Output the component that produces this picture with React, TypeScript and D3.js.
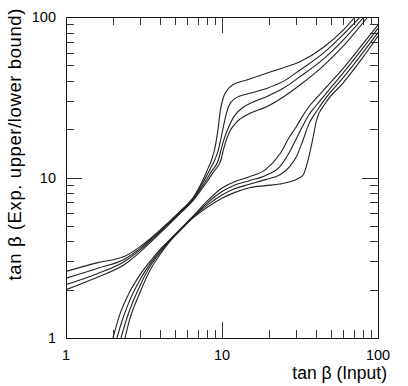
import React, { useEffect, useRef } from 'react';
import * as d3 from 'd3';

// upper bounds as [tanB input, tanB bound]
const upper1 = [[1, 2.6], [1.6, 2.95], [2.4, 3.24], [3.0, 3.72], [3.45, 4.15], [4.5, 5.22], [5.5, 6.28], [6.5, 7.45], [7.6, 9.8], [8.2, 11.6], [8.6, 13.0], [9.0, 15.2], [9.4, 19.5], [9.75, 26], [10.2, 31.5], [10.8, 35], [11.8, 38], [14.4, 40.5], [19.3, 44.6], [25, 48.5], [31.6, 52.7], [45, 65], [60, 83], [71.2, 100]];
const upper2 = [[1, 2.36], [1.6, 2.72], [2.4, 3.12], [3.0, 3.63], [3.45, 4.08], [4.5, 5.16], [5.5, 6.22], [6.5, 7.35], [7.6, 9.4], [8.4, 11.3], [9.0, 12.9], [9.47, 14.8], [9.85, 17.5], [10.2, 20.7], [10.6, 24.5], [11.0, 27.6], [12.1, 31.1], [15.1, 33.5], [19.3, 35.9], [25, 40], [31.6, 46.7], [45, 60], [60, 78], [76.7, 100]];
const upper3 = [[1, 2.15], [1.6, 2.52], [2.4, 3.02], [3.0, 3.55], [3.45, 4.0], [4.5, 5.1], [5.5, 6.15], [6.5, 7.25], [7.6, 9.05], [8.6, 11.0], [9.48, 12.85], [9.85, 14.8], [10.3, 17.3], [10.7, 19.2], [11.8, 23.6], [13.7, 27.4], [16, 29.6], [19.3, 31.9], [25, 36.2], [31.6, 42.5], [45, 55], [60, 72], [81.2, 100]];
const upper4 = [[1, 2.0], [1.6, 2.4], [2.4, 2.89], [3.0, 3.45], [3.45, 3.92], [4.5, 5.02], [5.5, 6.08], [6.5, 7.15], [7.6, 8.75], [8.8, 10.8], [9.85, 12.85], [10.2, 14.8], [10.7, 17.3], [11.3, 19.6], [12.4, 22.1], [15.1, 25.1], [19.3, 27.6], [25, 32], [31.6, 37.7], [45, 50], [60, 66], [85.9, 100]];

// lower bounds
const lower1 = [[2.0, 1.0], [2.2, 1.38], [2.5, 1.85], [3.0, 2.5], [3.5, 3.05], [4.0, 3.55], [4.5, 3.98], [5.5, 4.85], [6.5, 5.72], [8, 7.1], [10, 8.6], [12, 9.4], [15, 10.1], [19, 11.2], [23.5, 14.0], [27, 17.8], [30, 20.8], [33, 24.3], [36, 27.5], [40, 31], [46, 36], [60, 48], [80, 68], [100, 89]];
const lower2 = [[2.12, 1.0], [2.3, 1.3], [2.5, 1.62], [3.0, 2.33], [3.5, 2.95], [4.0, 3.48], [4.5, 3.96], [5.5, 4.83], [6.5, 5.68], [8, 6.9], [10, 8.17], [12, 8.95], [15, 9.55], [19, 10.3], [23.5, 11.7], [27, 14.3], [30, 17.5], [33, 21.0], [36, 24.5], [40, 28], [46, 33], [60, 45], [80, 64], [100, 85]];
const lower3 = [[2.25, 1.0], [2.5, 1.4], [3.0, 2.15], [3.5, 2.85], [4.0, 3.4], [4.5, 3.93], [5.5, 4.8], [6.5, 5.64], [8, 6.7], [10, 7.77], [12, 8.5], [15, 9.07], [19, 9.7], [23.5, 10.4], [27, 11.6], [30, 13.5], [33, 17.0], [36, 21.5], [40, 25.5], [46, 31], [60, 42], [80, 60], [100, 80]];
const lower4 = [[2.39, 1.0], [2.5, 1.2], [3.0, 1.95], [3.5, 2.7], [4.0, 3.3], [4.5, 3.86], [5.5, 4.77], [6.5, 5.58], [8, 6.5], [10, 7.43], [12, 8.05], [15, 8.64], [19, 8.9], [23.5, 9.1], [27.3, 9.4], [31, 9.9], [33.2, 10.4], [35.6, 12.8], [38, 17], [40.4, 22.8], [46, 29], [60, 39], [80, 56], [100, 76]];

const curves = [upper1, upper2, upper3, upper4, lower1, lower2, lower3, lower4];
const tickLabels = ['1', '10', '100'];
const xTitle = 'tan \u03b2 (Input)';
const yTitle = 'tan \u03b2 (Exp. upper/lower bound)';

const W = 408, H = 386;
const L = 66, R = 378, T = 17, B = 338;
const FONT = '"Liberation Sans", Arial, Helvetica, sans-serif';

export default function App() {
  const ref = useRef<SVGSVGElement>(null);

  useEffect(() => {
    const svg = d3.select(ref.current);
    svg.selectAll('*').remove();

    const x = d3.scaleLog().domain([1, 100]).range([L, R]);
    const y = d3.scaleLog().domain([1, 100]).range([B, T]);

    svg.append('defs').append('clipPath').attr('id', 'plot')
      .append('rect').attr('x', L).attr('y', T).attr('width', R - L).attr('height', B - T);

    const isMajor = (v: number) => Math.abs(Math.log10(v) - Math.round(Math.log10(v))) < 1e-6;
    const tickColor = '#333';

    // ticks on all four sides, pointing inwards
    const g = svg.append('g').attr('stroke', tickColor).attr('stroke-width', 1);
    x.ticks().forEach((v) => {
      const len = isMajor(v) ? 16 : 8;
      const px = Math.round(x(v)) + 0.5;
      g.append('line').attr('x1', px).attr('x2', px).attr('y1', B).attr('y2', B - len);
      g.append('line').attr('x1', px).attr('x2', px).attr('y1', T).attr('y2', T + len);
    });
    y.ticks().forEach((v) => {
      const len = isMajor(v) ? 16 : 8;
      const py = Math.round(y(v)) + 0.5;
      g.append('line').attr('y1', py).attr('y2', py).attr('x1', L).attr('x2', L + len);
      g.append('line').attr('y1', py).attr('y2', py).attr('x1', R).attr('x2', R - len);
    });

    svg.append('rect')
      .attr('x', L + 0.5).attr('y', T + 0.5).attr('width', R - L).attr('height', B - T)
      .attr('fill', 'none').attr('stroke', '#111').attr('stroke-width', 1);

    const line = d3.line<number[]>()
      .x((d) => x(d[0]))
      .y((d) => y(d[1]))
      .curve(d3.curveMonotoneX);

    svg.append('g').attr('clip-path', 'url(#plot)')
      .selectAll('path').data(curves).join('path')
      .attr('d', (d) => line(d))
      .attr('fill', 'none')
      .attr('stroke', '#222')
      .attr('stroke-width', 1.1);

    // tick labels
    const decades = [1, 10, 100];
    svg.append('g').selectAll('text').data(decades).join('text')
      .attr('x', (d) => x(d)).attr('y', 360)
      .attr('text-anchor', 'middle')
      .attr('font-family', FONT).attr('font-size', 14.5)
      .text((d, i) => tickLabels[i]);
    svg.append('g').selectAll('text').data(decades).join('text')
      .attr('x', 56).attr('y', (d) => y(d))
      .attr('dy', '0.36em')
      .attr('text-anchor', 'end')
      .attr('font-family', FONT).attr('font-size', 14.5)
      .text((d, i) => tickLabels[i]);

    svg.append('text')
      .attr('x', 387).attr('y', 379)
      .attr('text-anchor', 'end')
      .attr('font-family', FONT).attr('font-size', 17.5)
      .text(xTitle);

    svg.append('text')
      .attr('transform', 'translate(21,8) rotate(-90)')
      .attr('text-anchor', 'end')
      .attr('font-family', FONT).attr('font-size', 18.5)
      .attr('letter-spacing', 0.6)
      .text(yTitle);
  }, []);

  return (
    <svg ref={ref} width={W} height={H}
      style={{ position: 'absolute', left: 0, top: 0, background: '#fff' }} />
  );
}
